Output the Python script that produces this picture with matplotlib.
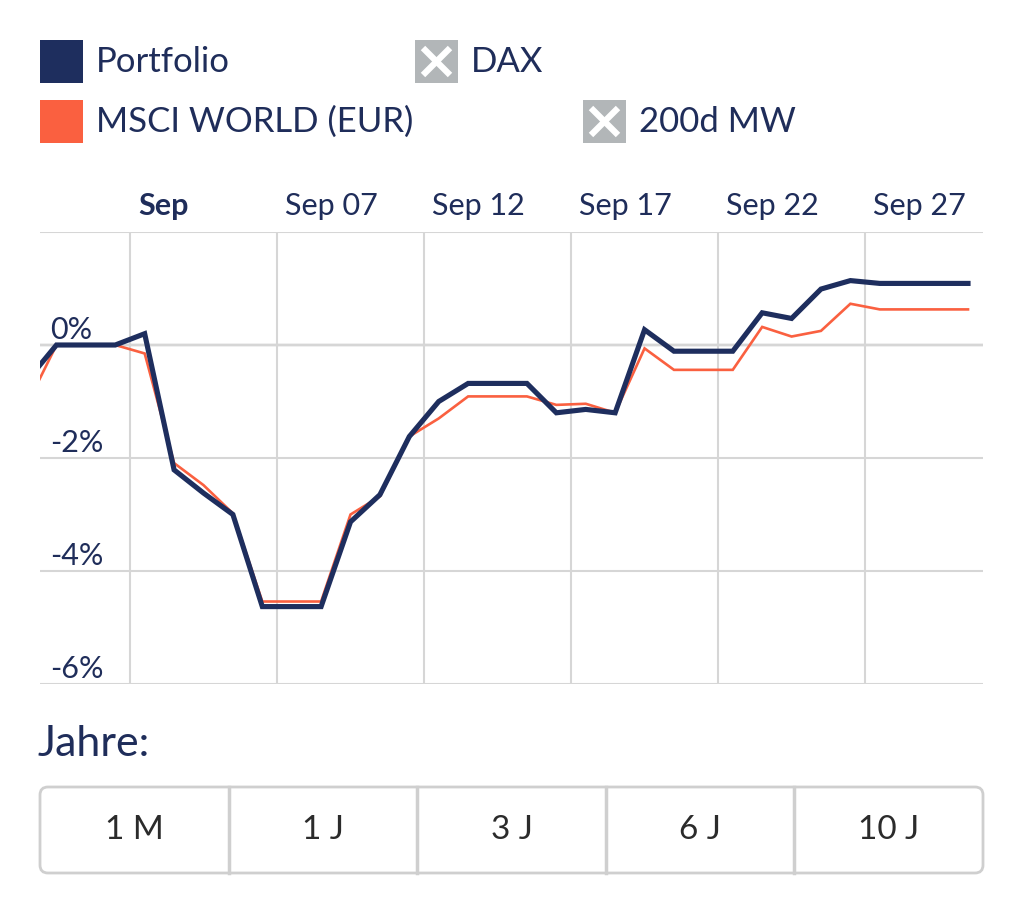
import matplotlib
matplotlib.use("Agg")
import matplotlib.pyplot as plt
from matplotlib.patches import Rectangle, FancyBboxPatch
import matplotlib.transforms as mtransforms

plt.rcParams['font.family'] = ['Lato', 'DejaVu Sans']

# ---------------- data ----------------
# x: days relative to the "Sep" tick (daily points, weekends carried flat)
days = [-3.5, -2.5, -1.5, -0.5, 0.5, 1.5, 2.5, 3.5, 4.5, 5.5, 6.5, 7.5, 8.5,
        9.5, 10.5, 11.5, 12.5, 13.5, 14.5, 15.5, 16.5, 17.5, 18.5, 19.5,
        20.5, 21.5, 22.5, 23.5, 24.5, 25.5, 26.5, 27.5, 28.5]
portfolio = [-0.63, 0.00, 0.00, 0.00, 0.20, -2.21, -2.62, -3.00, -4.63, -4.63,
             -4.63, -3.13, -2.65, -1.62, -1.00, -0.68, -0.68, -0.68, -1.20,
             -1.14, -1.20, 0.27, -0.11, -0.11, -0.11, 0.57, 0.47, 0.99, 1.14,
             1.09, 1.09, 1.09, 1.09]
msci = [-1.05, 0.00, 0.00, 0.00, -0.15, -2.09, -2.48, -2.98, -4.54, -4.54,
        -4.54, -3.00, -2.68, -1.62, -1.30, -0.91, -0.91, -0.91, -1.06, -1.04,
        -1.20, -0.06, -0.44, -0.44, -0.44, 0.32, 0.15, 0.25, 0.73, 0.63, 0.63,
        0.63, 0.63]

x_ticks = [0, 5, 10, 15, 20, 25]
x_tick_labels = ["Sep", "Sep 07", "Sep 12", "Sep 17", "Sep 22", "Sep 27"]
y_ticks = [-6, -4, -2, 0, 2]
y_tick_labels = ["-6%", "-4%", "-2%", "0%", ""]

legend_labels = ["Portfolio", "DAX", "MSCI WORLD (EUR)", "200d MW"]
range_title = "Jahre:"
range_buttons = ["1 M", "1 J", "3 J", "6 J", "10 J"]

# ---------------- style ----------------
NAVY = "#1e2e5e"
ORANGE = "#fa6040"
TEXT = "#1f2d5a"
GRID = "#d6d6d6"
ZERO = "#858585"
ICON_GRAY = "#b2b6b8"

W, H = 1024, 900
fig = plt.figure(figsize=(W / 100, H / 100), dpi=100)
fig.patch.set_facecolor("white")

# main chart axes (pixel box: x 40..983, y 232..684)
L, R, T, B = 40, 983, 232, 684
ax = fig.add_axes([L / W, (H - B) / H, (R - L) / W, (B - T) / H])
ax.set_xlim(-3.06, 29.01)
ax.set_ylim(-6, 2)
for s in ax.spines.values():
    s.set_visible(False)

ax.set_yticks(y_ticks)
ax.set_xticks(x_ticks)
ax.tick_params(axis="both", length=0, left=False, bottom=False,
               labelleft=False, labelbottom=False)

ax.grid(True, axis="both", color=GRID, lw=1.5, zorder=0)
ax.axhline(0, color=ZERO, lw=1.6, zorder=1)

ax.plot(days, msci, color=ORANGE, lw=1.9, zorder=3, solid_joinstyle="miter")
ax.plot(days, portfolio, color=NAVY, lw=3.7, zorder=4, solid_joinstyle="miter")

# x labels above the plot, starting just right of each gridline
xtrans = mtransforms.blended_transform_factory(ax.transData, ax.transAxes)
xtrans = mtransforms.offset_copy(xtrans, fig=fig, x=8, y=17, units="dots")
for i, (t, lab) in enumerate(zip(x_ticks, x_tick_labels)):
    ax.text(t, 1, lab, transform=xtrans, ha="left", va="baseline",
            fontsize=22, color=TEXT, fontweight="bold" if i == 0 else "normal",
            clip_on=False)

ytrans = mtransforms.blended_transform_factory(ax.transAxes, ax.transData)
for v, lab in zip(y_ticks, y_tick_labels):
    if lab:
        ax.text(10 / (R - L), v + 0.1, lab, transform=ytrans, ha="left",
                va="baseline", fontsize=22, color=TEXT, zorder=5)

# overlay axes in pixel coordinates for legend and range selector
ov = fig.add_axes([0, 0, 1, 1], zorder=10)
ov.set_xlim(0, W)
ov.set_ylim(H, 0)
ov.axis("off")
ov.patch.set_alpha(0)

def color_box(x, y, c):
    ov.add_patch(Rectangle((x, y), 43, 43, color=c, lw=0))

def off_box(x, y):
    ov.add_patch(Rectangle((x, y), 43, 43, color=ICON_GRAY, lw=0))
    m = 8
    ov.plot([x + m, x + 43 - m], [y + m, y + 43 - m], color="white", lw=4.5,
            solid_capstyle="butt")
    ov.plot([x + m, x + 43 - m], [y + 43 - m, y + m], color="white", lw=4.5,
            solid_capstyle="butt")

LFS = 25
color_box(40, 40, NAVY)
ov.text(96, 62, legend_labels[0], fontsize=LFS, color=TEXT, va="center", ha="left")
off_box(415, 40)
ov.text(471, 62, legend_labels[1], fontsize=LFS, color=TEXT, va="center", ha="left")
color_box(40, 100, ORANGE)
ov.text(96, 122, legend_labels[2], fontsize=LFS, color=TEXT, va="center", ha="left")
off_box(583, 100)
ov.text(639, 122, legend_labels[3], fontsize=LFS, color=TEXT, va="center", ha="left")

ov.text(38, 744, range_title, fontsize=31, color=TEXT, va="center", ha="left")

bx0, bx1, by0, by1 = 40, 983, 787, 873
ov.add_patch(FancyBboxPatch((bx0, by0), bx1 - bx0, by1 - by0,
                            boxstyle="round,pad=0,rounding_size=8",
                            facecolor="white", edgecolor="#cfcfcf", lw=2))
n = len(range_buttons)
bw = (bx1 - bx0) / n
for i, lab in enumerate(range_buttons):
    if i > 0:
        ov.plot([bx0 + i * bw, bx0 + i * bw], [by0, by1], color="#cfcfcf", lw=2.5)
    ov.text(bx0 + (i + 0.5) * bw, (by0 + by1) / 2, lab, fontsize=24,
            color="#2b2b2b", ha="center", va="center")

fig.savefig("out.png", dpi=100, facecolor="white")
